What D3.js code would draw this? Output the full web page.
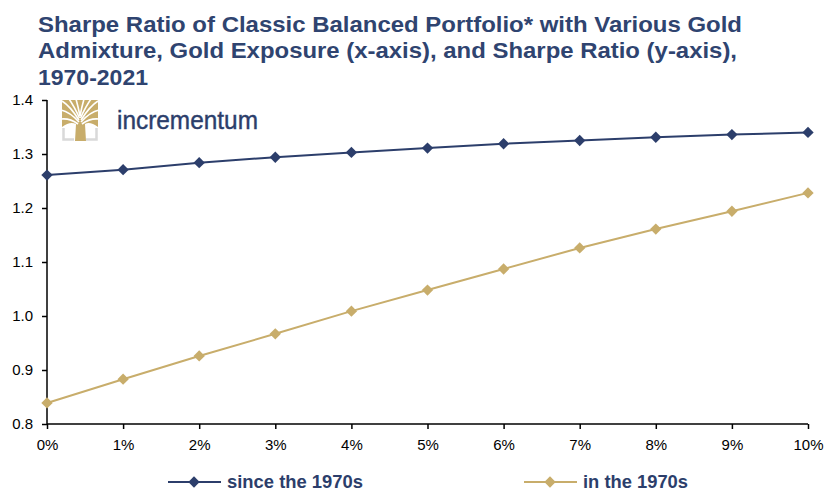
<!DOCTYPE html>
<html><head><meta charset="utf-8">
<script src="https://cdn.jsdelivr.net/npm/d3@7"></script>
<style>
body{margin:0;background:#fff;}
text{font-family:"Liberation Sans",Arial,sans-serif;}
</style></head>
<body><svg id="c" width="824" height="490"></svg>
<script>
const exposure = ["0%","1%","2%","3%","4%","5%","6%","7%","8%","9%","10%"];
const since1970s = [1.261,1.271,1.284,1.294,1.303,1.311,1.319,1.325,1.331,1.336,1.340];
const in1970s = [0.839,0.883,0.926,0.967,1.009,1.048,1.087,1.126,1.161,1.194,1.228];
const yTicks = [0.8,0.9,1.0,1.1,1.2,1.3,1.4];
const seriesNames = ["since the 1970s","in the 1970s"];
const titleLines = ["Sharpe Ratio of Classic Balanced Portfolio* with Various Gold","Admixture, Gold Exposure (x-axis), and Sharpe Ratio (y-axis),","1970-2021"];

const navy = "#2c3e6b", gold = "#c8ad6b", titleCol = "#2f4470";
const svg = d3.select("#c");
const x = d3.scalePoint().domain(exposure).range([47, 808]);
const y = d3.scaleLinear().domain([0.8, 1.4]).range([424, 100]);

function fit(sel, w){ sel.each(function(){ const l=this.getComputedTextLength(); if(Math.abs(l-w)>1){ d3.select(this).attr("textLength", w).attr("lengthAdjust","spacingAndGlyphs"); } }); }

// title
const tW = [704, 699, 110];
titleLines.forEach((t,i)=>{
  svg.append("text").attr("x",38).attr("y",31.5+i*26.5).attr("fill",titleCol)
    .attr("font-size",22.5).attr("font-weight","bold").text(t).call(fit, tW[i]);
});

// logo
const lg = svg.append("g");
lg.append("path").attr("fill","none").attr("stroke","#d9d9d9").attr("stroke-width",2.5)
  .attr("d","M63.5,128 V139.5 H74 M96.5,128 V139.5 H86");
lg.append("path").attr("fill",gold)
  .attr("d","M62,100 H98 V127 Q90,121 85,124 L86,141 H75 L76,124 Q70,121 62,127 Z");
const br = lg.append("g").attr("fill","none").attr("stroke","#fff").attr("stroke-width",1.6);
["M79,122 Q70,112 61,110","M79,120 Q70,106 62,101","M79.5,118 Q74,106 69,99","M80,116 Q78,106 76,99",
 "M81,122 Q90,112 99,110","M81,120 Q90,106 98,101","M80.5,118 Q86,106 91,99","M80,116 Q82,106 84,99",
 "M78,124 Q70,118 61,119","M82,124 Q90,118 99,119"].forEach(d=>br.append("path").attr("d",d));
svg.append("text").attr("x",117).attr("y",129).attr("fill",navy).attr("font-size",25)
  .attr("stroke",navy).attr("stroke-width",0.4).text("incrementum").call(fit,141);

// axes
const yAxis = svg.append("g").attr("transform","translate(47,0)")
  .call(d3.axisLeft(y).tickValues(yTicks).tickFormat(d3.format(".1f")).tickSize(5).tickPadding(9));
const xAxis = svg.append("g").attr("transform","translate(0,424)")
  .call(d3.axisBottom(x).tickSize(5).tickPadding(10));
[yAxis,xAxis].forEach(a=>{
  a.select(".domain").attr("stroke","#000").attr("stroke-width",1.5);
  a.selectAll(".tick line").attr("stroke","#000").attr("stroke-width",1.5);
  a.selectAll("text").attr("fill","#000").attr("font-size",15)
   .attr("font-family","'Liberation Sans',Arial,sans-serif");
});
xAxis.select(".domain").attr("d","M47,0H808");
yAxis.select(".domain").attr("d","M0,100V424");

// series
const diamond = d3.symbol().type(d3.symbolSquare).size(64);
const series = [{name:seriesNames[0],vals:since1970s,col:navy},{name:seriesNames[1],vals:in1970s,col:gold}];
const line = d3.line().x((d,i)=>x(exposure[i])).y(d=>y(d));
series.forEach(s=>{
  svg.append("path").datum(s.vals).attr("d",line).attr("fill","none").attr("stroke",s.col).attr("stroke-width",2);
  svg.selectAll(null).data(s.vals).enter().append("path").attr("d",diamond)
    .attr("transform",(d,i)=>`translate(${x(exposure[i])},${y(d)}) rotate(45)`).attr("fill",s.col);
});

// legend
const lgX = [168, 524], lgW = [136, 105];
series.forEach((s,i)=>{
  const g = svg.append("g").attr("transform",`translate(${lgX[i]},482)`);
  g.append("line").attr("x1",0).attr("x2",53).attr("stroke",s.col).attr("stroke-width",2);
  g.append("path").attr("d",diamond).attr("transform","translate(26,0) rotate(45)").attr("fill",s.col);
  g.append("text").attr("x",59).attr("y",5.5).attr("font-size",17.5).attr("font-weight","bold")
    .attr("fill",navy).text(s.name).call(fit, lgW[i]);
});
</script></body></html>
